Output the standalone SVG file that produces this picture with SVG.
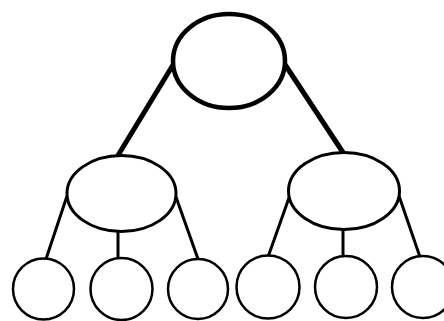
<svg xmlns="http://www.w3.org/2000/svg" width="444" height="321" viewBox="0 0 444 321">
<style>
.thick{stroke:#000;stroke-width:5;fill:none}
.thin{stroke:#000;stroke-width:3;fill:none}
.node{fill:#fff;stroke:#000}
</style>
<rect width="444" height="321" fill="#fff"/>
<g id="connectors">
<line class="thick" x1="176" y1="60" x2="117" y2="157"/>
<line class="thick" x1="282" y1="60" x2="344" y2="154"/>
<line class="thin" x1="67" y1="196" x2="46" y2="259"/>
<line class="thin" x1="118" y1="231" x2="118" y2="259"/>
<line class="thin" x1="176" y1="197" x2="198" y2="259"/>
<line class="thin" x1="290" y1="195" x2="268" y2="257"/>
<line class="thin" x1="343" y1="229" x2="343" y2="256"/>
<line class="thin" x1="398" y1="193" x2="420" y2="257"/>
</g>
<g id="root"><ellipse class="node" stroke-width="4.5" cx="229" cy="61" rx="56" ry="47"/></g>
<g id="left"><ellipse class="node" stroke-width="3" cx="121.5" cy="193.5" rx="54.5" ry="38"/></g>
<g id="right"><ellipse class="node" stroke-width="3" cx="344" cy="191" rx="55.5" ry="38.5"/></g>
<g id="leaf1"><circle class="node" stroke-width="2.5" cx="43.5" cy="289" r="30.5"/></g>
<g id="leaf2"><circle class="node" stroke-width="2.5" cx="121.5" cy="289" r="31"/></g>
<g id="leaf3"><circle class="node" stroke-width="2.5" cx="198" cy="289" r="30"/></g>
<g id="leaf4"><circle class="node" stroke-width="2.5" cx="268" cy="287" r="31.5"/></g>
<g id="leaf5"><circle class="node" stroke-width="2.5" cx="346" cy="287" r="31"/></g>
<g id="leaf6"><circle class="node" stroke-width="2.5" cx="423" cy="287" r="31"/></g>
</svg>
